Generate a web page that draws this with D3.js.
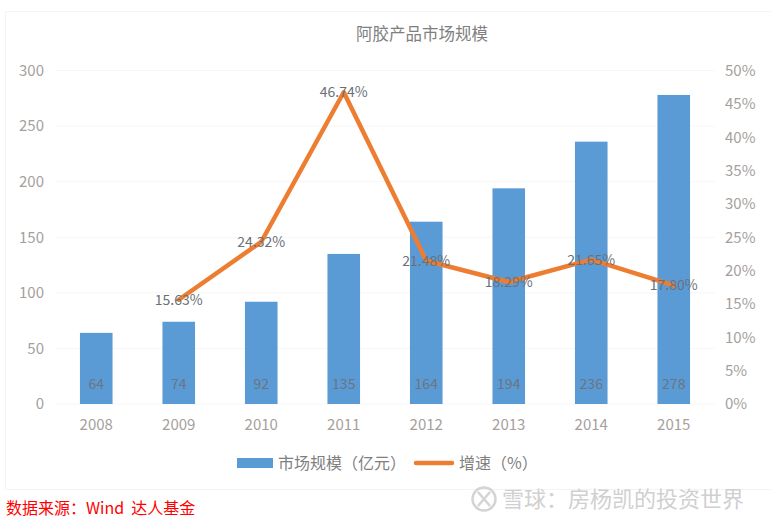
<!DOCTYPE html>
<html>
<head>
<meta charset="utf-8">
<script src="https://cdn.jsdelivr.net/npm/d3@7"></script>
<style>
  html, body { margin: 0; padding: 0; background: #fff; }
  text { font-family: "Noto Sans CJK SC", "Open Sans", sans-serif; }
</style>
</head>
<body>
<svg width="771" height="524"></svg>
<script>
// Values
const years = ["2008", "2009", "2010", "2011", "2012", "2013", "2014", "2015"];
const marketSize = [64, 74, 92, 135, 164, 194, 236, 278];
const growth = [null, 15.63, 24.32, 46.74, 21.48, 18.29, 21.65, 17.80];
const leftTicks = [0, 50, 100, 150, 200, 250, 300];
const rightTicks = [0, 5, 10, 15, 20, 25, 30, 35, 40, 45, 50];

const svg = d3.select("svg");
const margin = {top: 70.5, right: 56, bottom: 120, left: 55};
const width = +svg.attr("width");
const height = +svg.attr("height");

// Chart frame, right edge runs off the picture
svg.append("rect")
    .attr("x", 5.5).attr("y", 11.5)
    .attr("width", 780).attr("height", 478)
    .attr("fill", "#fff")
    .attr("stroke", "#f4f4f4");

const x = d3.scaleBand()
    .domain(years)
    .range([margin.left, width - margin.right])
    .paddingInner(0.605)
    .paddingOuter(0.3025);
const yLeft = d3.scaleLinear().domain([0, 300]).range([height - margin.bottom, margin.top]);
const yRight = d3.scaleLinear().domain([0, 50]).range([height - margin.bottom, margin.top]);
const cx = d => x(d) + x.bandwidth() / 2;

// Gridlines
svg.append("g")
    .attr("stroke", "#f6f6f6")
  .selectAll("line")
  .data(leftTicks)
  .enter().append("line")
    .attr("x1", margin.left).attr("x2", width - margin.right)
    .attr("y1", d => yLeft(d)).attr("y2", d => yLeft(d));

// Axes, labels only
const axisStyle = g => {
  g.select(".domain").remove();
  g.selectAll(".tick line").remove();
  g.selectAll("text").attr("fill", "#a6a09c").attr("font-size", "15px");
};
svg.append("g")
    .attr("transform", `translate(${margin.left - 4},0)`)
    .call(d3.axisLeft(yLeft).tickValues(leftTicks).tickSize(0).tickPadding(7))
    .call(axisStyle);
svg.append("g")
    .attr("transform", `translate(${width - margin.right + 4},0)`)
    .call(d3.axisRight(yRight).tickValues(rightTicks).tickFormat(d => d + "%").tickSize(0).tickPadding(6))
    .call(axisStyle);
svg.append("g")
    .attr("transform", `translate(0,${height - margin.bottom + 12})`)
    .call(d3.axisBottom(x).tickSize(0).tickPadding(3))
    .call(axisStyle);

// Bars
svg.append("g")
  .selectAll("rect")
  .data(years)
  .enter().append("rect")
    .attr("x", d => x(d))
    .attr("width", x.bandwidth())
    .attr("y", (d, i) => yLeft(marketSize[i]))
    .attr("height", (d, i) => yLeft(0) - yLeft(marketSize[i]))
    .attr("fill", "#5b9bd5");

// Bar value labels
svg.append("g")
  .selectAll("text")
  .data(years)
  .enter().append("text")
    .attr("x", cx)
    .attr("y", height - margin.bottom - 15)
    .attr("text-anchor", "middle")
    .attr("font-size", "14px")
    .attr("fill", "#6b7480")
    .text((d, i) => marketSize[i]);

// Growth line
const points = years.map((d, i) => ({year: d, value: growth[i]})).filter(d => d.value !== null);
const line = d3.line().x(d => cx(d.year)).y(d => yRight(d.value));
svg.append("path")
    .datum(points)
    .attr("d", line)
    .attr("fill", "none")
    .attr("stroke", "#ed7d31")
    .attr("stroke-width", 4.5)
    .attr("stroke-linejoin", "round")
    .attr("stroke-linecap", "round");

svg.append("g")
  .selectAll("text")
  .data(points)
  .enter().append("text")
    .attr("x", d => cx(d.year))
    .attr("y", d => yRight(d.value) + 5)
    .attr("text-anchor", "middle")
    .attr("font-size", "14px")
    .attr("fill", "#6b7078")
    .text(d => d.value.toFixed(2) + "%");

// Title
svg.append("text")
    .attr("x", 422).attr("y", 40)
    .attr("text-anchor", "middle")
    .attr("font-size", "16.5px")
    .attr("fill", "#7f7f7f")
    .text("阿胶产品市场规模");

// Legend
svg.append("rect")
    .attr("x", 237).attr("y", 458)
    .attr("width", 36).attr("height", 10)
    .attr("fill", "#5b9bd5");
svg.append("text")
    .attr("x", 278).attr("y", 469)
    .attr("font-size", "16px")
    .attr("fill", "#7f7f7f")
    .text("市场规模（亿元）");
svg.append("line")
    .attr("x1", 416).attr("x2", 452)
    .attr("y1", 463).attr("y2", 463)
    .attr("stroke", "#ed7d31")
    .attr("stroke-width", 4.5)
    .attr("stroke-linecap", "round");
svg.append("text")
    .attr("x", 459).attr("y", 469)
    .attr("font-size", "16px")
    .attr("fill", "#7f7f7f")
    .text("增速（%）");

// Source note
svg.append("text")
    .attr("x", 6).attr("y", 514)
    .attr("font-size", "16px")
    .attr("fill", "#ff0000")
    .attr("style", "white-space: pre")
    .text("数据来源：Wind  达人基金");

// Watermark
const mark = svg.append("g").attr("fill", "none").attr("stroke", "#d4d4d4");
mark.append("circle").attr("cx", 484).attr("cy", 499).attr("r", 11.5).attr("stroke-width", 2.5);
mark.append("path").attr("d", "M478 492L490 506M490 492L478 506").attr("stroke-width", 2.5);
svg.append("text")
    .attr("x", 502).attr("y", 507)
    .attr("font-size", "22px")
    .attr("fill", "#d0d0d0")
    .text("雪球：房杨凯的投资世界");
</script>
</body>
</html>
